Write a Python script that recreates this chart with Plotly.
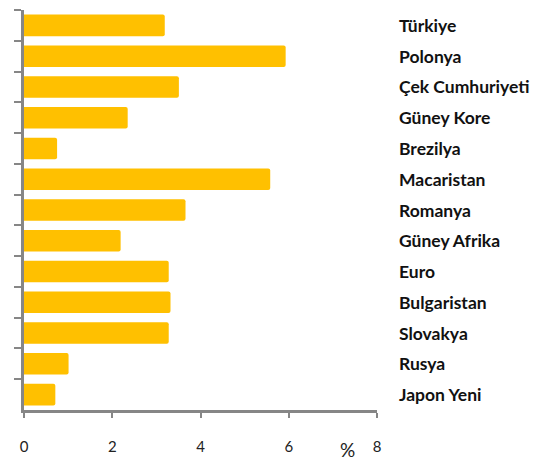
import plotly.graph_objects as go

categories = ["Türkiye", "Polonya", "Çek Cumhuriyeti", "Güney Kore", "Brezilya",
              "Macaristan", "Romanya", "Güney Afrika", "Euro", "Bulgaristan",
              "Slovakya", "Rusya", "Japon Yeni"]
values = [3.19, 5.93, 3.51, 2.35, 0.75, 5.58, 3.66, 2.19, 3.28, 3.32, 3.28, 1.01, 0.71]
x_ticks = [0, 2, 4, 6, 8]

axis_grey = "#868686"
label_font = dict(family="Lato", size=17.5, color="#111111")

fig = go.Figure(go.Bar(
    x=values, y=categories, orientation="h",
    marker=dict(color="#FFC000", cornerradius=2, line=dict(width=0)),
    hoverinfo="skip",
))

# category names sit to the right of the plot, left aligned
for cat in categories:
    fig.add_annotation(
        x=1.057, y=cat, xref="paper", yref="y", text="<b>%s</b>" % cat,
        showarrow=False, xanchor="left", yanchor="middle", font=label_font,
    )

fig.add_annotation(
    x=0.917, y=-0.098, xref="paper", yref="paper", text="%", showarrow=False,
    xanchor="center", yanchor="middle",
    font=dict(family="Lato", size=19, color="#222222"),
)

fig.update_layout(
    width=557, height=465,
    margin=dict(l=24, r=180, t=10, b=55),
    plot_bgcolor="white", paper_bgcolor="white",
    bargap=0.3, showlegend=False,
    xaxis=dict(
        range=[0, 8], tickvals=x_ticks, ticktext=[str(v) for v in x_ticks],
        showgrid=False, zeroline=False,
        showline=True, linecolor=axis_grey, linewidth=3,
        ticks="outside", ticklen=5, tickwidth=2, tickcolor=axis_grey,
        ticklabelstandoff=16,
        tickfont=dict(family="Lato", size=15, color="#222222"),
    ),
    yaxis=dict(
        autorange="reversed", showticklabels=False, showgrid=False,
        showline=True, linecolor=axis_grey, linewidth=3,
        ticks="outside", tickson="boundaries", ticklen=7, tickwidth=2,
        tickcolor=axis_grey,
    ),
)

fig.write_html("out.html")
